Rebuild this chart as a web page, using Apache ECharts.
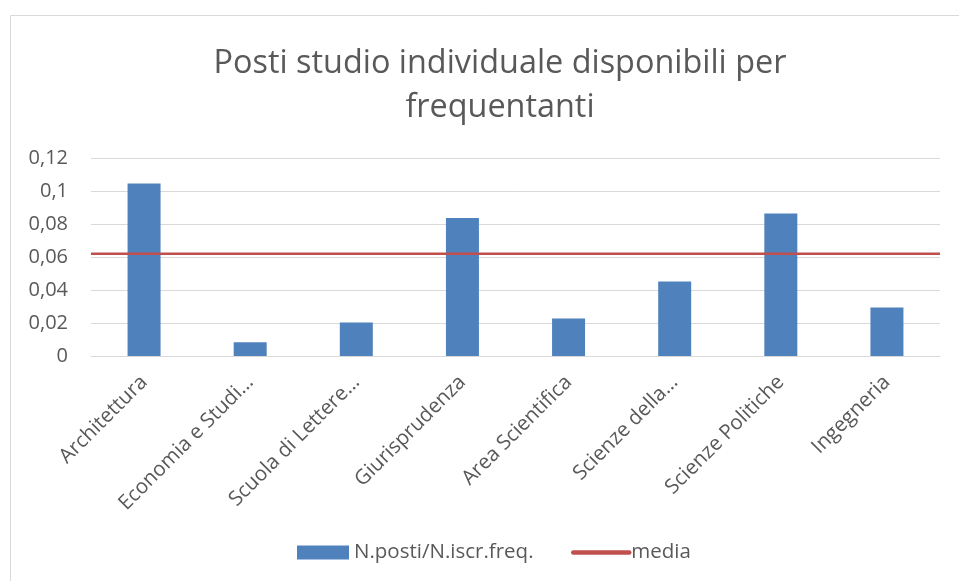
<!DOCTYPE html>
<html>
<head>
<meta charset="utf-8">
<script src="https://cdn.jsdelivr.net/npm/echarts@6/dist/echarts.min.js"></script>
<style>
html,body{margin:0;padding:0;background:#fff;}
#chart{width:959px;height:581px;}
</style>
</head>
<body>
<div id="chart"></div>
<script>
var categories = ['Architettura', 'Economia e Studi…', 'Scuola di Lettere…', 'Giurisprudenza', 'Area Scientifica', 'Scienze della…', 'Scienze Politiche', 'Ingegneria'];
var ratioValues = [0.1045, 0.0083, 0.0203, 0.0836, 0.0228, 0.0451, 0.0864, 0.0294];
var mediaValues = [0.062, 0.062, 0.062, 0.062, 0.062, 0.062, 0.062, 0.062];
var seriesNames = ['N.posti/N.iscr.freq.', 'media'];
var titleText = 'Posti studio individuale disponibili per\nfrequentanti';

var FONT = '"Open Sans", "Liberation Sans", sans-serif';
var TXT = '#595959';
var chart = echarts.init(document.getElementById('chart'), null, {renderer: 'canvas'});
chart.setOption({
  backgroundColor: '#ffffff',
  animation: false,
  graphic: [{
    type: 'rect', left: 8, top: 13, silent: true,
    shape: {x: 0, y: 0, width: 1000, height: 1000},
    style: {fill: 'none', stroke: '#d9d9d9', lineWidth: 1}
  }],
  title: {
    text: titleText,
    left: 495,
    textAlign: 'center',
    top: 37,
    textStyle: {fontFamily: FONT, fontWeight: 'normal', fontSize: 32.4, color: TXT, lineHeight: 44}
  },
  legend: [{
    left: 292,
    top: 537,
    itemWidth: 52,
    itemHeight: 14,
    textStyle: {fontFamily: FONT, fontSize: 20.5, color: TXT},
    data: [{name: seriesNames[0], icon: 'rect'}]
  }, {
    left: 566,
    top: 537,
    itemWidth: 56,
    itemHeight: 14,
    textStyle: {fontFamily: FONT, fontSize: 20.5, color: TXT, padding: [0, 0, 0, -3]},
    data: [{name: seriesNames[1], itemStyle: {opacity: 0}, lineStyle: {width: 4.5, cap: 'round', color: '#c0504d'}}]
  }],
  grid: {left: 91, right: 19, top: 158, bottom: 225, containLabel: false},
  xAxis: [{
    type: 'category',
    data: categories,
    axisLine: {lineStyle: {color: '#d9d9d9', width: 1}},
    axisTick: {show: false},
    axisLabel: {rotate: 45, interval: 0, margin: 23, fontFamily: FONT, fontSize: 20.5, color: TXT}
  }, {
    type: 'category',
    data: categories,
    boundaryGap: false,
    show: false
  }],
  yAxis: {
    type: 'value',
    min: 0, max: 0.12, interval: 0.02,
    axisLine: {show: false},
    axisTick: {show: false},
    splitLine: {lineStyle: {color: '#d9d9d9', width: 1}},
    axisLabel: {
      margin: 23, fontFamily: FONT, fontSize: 20, color: TXT,
      formatter: function (v) { return v === 0 ? '0' : String(+v.toFixed(2)).replace('.', ','); }
    }
  },
  series: [{
    name: seriesNames[0],
    type: 'bar',
    data: ratioValues,
    barWidth: 33,
    itemStyle: {color: '#4f81bd'}
  }, {
    name: seriesNames[1],
    type: 'line',
    xAxisIndex: 1,
    data: mediaValues,
    symbol: 'none',
    lineStyle: {color: '#c0504d', width: 2.5},
    itemStyle: {color: '#c0504d'}
  }]
});
</script>
</body>
</html>
